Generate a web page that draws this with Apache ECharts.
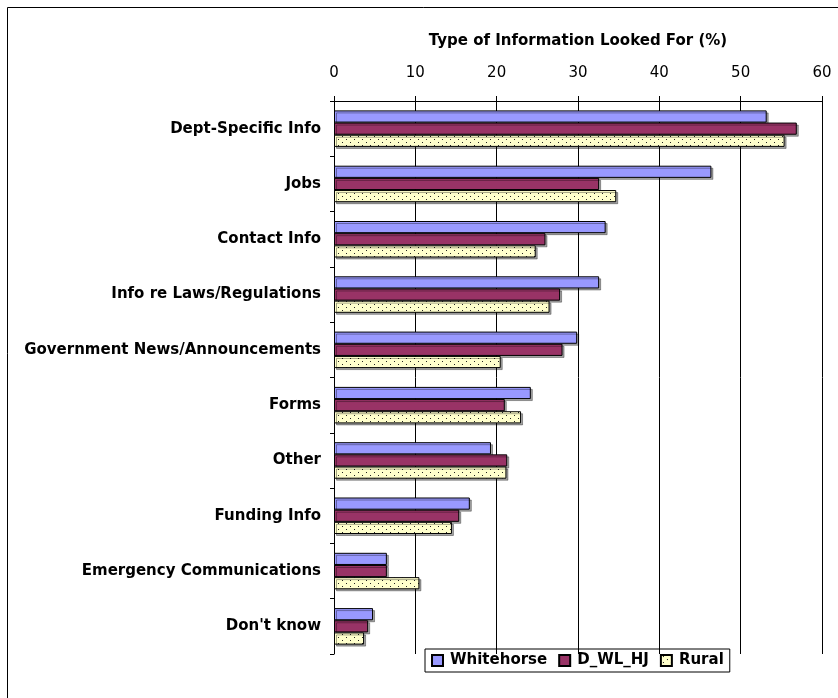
<!DOCTYPE html>
<html>
<head>
<meta charset="utf-8">
<script src="https://cdn.jsdelivr.net/npm/echarts@6/dist/echarts.min.js"></script>
<style>html,body{margin:0;padding:0;background:#fff}#c{width:838px;height:698px}</style>
</head>
<body>
<div id="c"></div>
<script>
const categories = ["Dept-Specific Info","Jobs","Contact Info","Info re Laws/Regulations","Government News/Announcements","Forms","Other","Funding Info","Emergency Communications","Don't know"];
const whitehorse = [53.2,46.4,33.4,32.6,29.9,24.2,19.3,16.7,6.5,4.8];
const dwlhj = [56.9,32.6,26.0,27.8,28.1,21.0,21.3,15.4,6.5,4.2];
const rural = [55.4,34.7,24.8,26.5,20.5,23.0,21.2,14.5,10.5,3.7];
const xTicks = [0,10,20,30,40,50,60];
const seriesNames = ["Whitehorse","D_WL_HJ","Rural"];

function dotPattern(){
  const c = document.createElement('canvas');
  c.width = 8; c.height = 6;
  const g = c.getContext('2d');
  g.fillStyle = '#FFFFCC'; g.fillRect(0,0,8,6);
  g.fillStyle = '#222';
  g.fillRect(2,1,1,1);
  g.fillRect(6,4,1,1);
  return c;
}
const pat = {image: dotPattern(), repeat: 'repeat'};
const font = 'DejaVu Sans, Verdana, sans-serif';
const chart = echarts.init(document.getElementById('c'), null, {renderer:'canvas'});
const common = {type:'bar', barGap:'0%', barCategoryGap:'34%',
  itemStyle:{borderColor:'#000', borderWidth:1, shadowColor:'rgba(0,0,0,0.35)', shadowOffsetX:2, shadowOffsetY:2, shadowBlur:0}};
chart.setOption({
  animation:false,
  backgroundColor:'#fff',
  graphic:[{type:'rect', shape:{x:7.5,y:7.5,width:840,height:700}, style:{fill:'none', stroke:'#000', lineWidth:1}}],
  grid:{left:334, right:16, top:101, bottom:44},
  legend:{bottom:26, left:425, itemWidth:11, itemHeight:11, itemGap:11,
    padding:[4,6,4,6], borderColor:'#000', borderWidth:1,
    textStyle:{fontFamily:font, fontWeight:'bold', fontSize:15, color:'#000', padding:[0,0,0,2]},
    data:seriesNames.map(n=>({name:n, icon:'rect'}))},
  xAxis:{type:'value', position:'top', min:xTicks[0], max:xTicks[xTicks.length-1], interval:10,
    name:'Type of Information Looked For (%)', nameLocation:'middle', nameGap:52,
    nameTextStyle:{fontFamily:font, fontWeight:'bold', fontSize:15, color:'#000'},
    axisLine:{show:true, lineStyle:{color:'#000', width:1}},
    axisTick:{show:true, length:5, lineStyle:{color:'#000'}},
    axisLabel:{fontFamily:font, fontSize:15, color:'#000', margin:20},
    splitLine:{show:true, lineStyle:{color:'#000', width:1}}},
  yAxis:{type:'category', inverse:true, data:categories,
    axisLine:{show:true, lineStyle:{color:'#000', width:1}},
    axisTick:{show:true, length:4, lineStyle:{color:'#000'}},
    axisLabel:{fontFamily:font, fontWeight:'bold', fontSize:15, color:'#000', margin:13}},
  series:[
    Object.assign({}, common, {name:seriesNames[0], data:whitehorse, itemStyle:Object.assign({}, common.itemStyle, {color:'#9999FF'})}),
    Object.assign({}, common, {name:seriesNames[1], data:dwlhj, itemStyle:Object.assign({}, common.itemStyle, {color:'#993366'})}),
    Object.assign({}, common, {name:seriesNames[2], data:rural, itemStyle:Object.assign({}, common.itemStyle, {color:pat})})
  ]
});
</script>
</body>
</html>
